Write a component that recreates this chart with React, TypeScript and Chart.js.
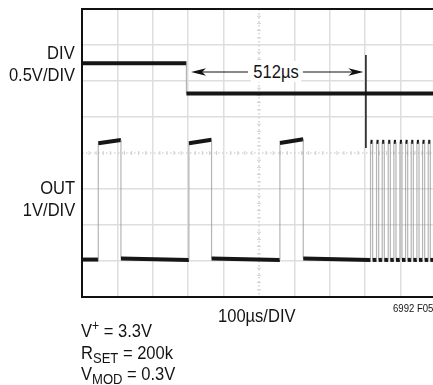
import React, { useEffect, useRef } from "react";
import { Chart, registerables } from "chart.js";

Chart.register(...registerables);

// ---- Scope settings (divisions) ----
const xDivisions = 10;
const usPerDiv = 100;
const yDivisions = 8;

// ---- DIV trace (in screen divisions from bottom) ----
const divTimesUs = [0, 295, 295, 1000];
const divLevels = [6.49, 6.49, 5.65, 5.65];

// ---- OUT trace: slow pulses (in screen divisions from bottom) ----
const outTimesUs = [0, 46, 46, 110, 110, 302, 302, 366, 366, 559, 559, 625, 625];
const outLevels = [1.04, 1.04, 4.27, 4.36, 1.07, 1.03, 4.27, 4.37, 1.07, 1.03, 4.28, 4.38, 1.07];

// ---- OUT trace: fast pulses after the 512us count ----
const fastRiseUs = [815, 832, 848, 865, 881, 898, 914, 930, 946, 962, 978, 994];
const fastFallUs = [821, 838, 854, 871, 887, 904, 920, 936, 952, 968, 984, 1000];
const fastHigh = 4.31;
const fastLow = 1.03;

// ---- Cursor / measurement annotation ----
const cursorUs = 802;
const cursorTopDiv = 6.72;
const cursorBottomDiv = 4.14;
const arrowDiv = 6.25;
const arrowLeftTipUs = 308;
const arrowLeftEndUs = 469;
const arrowRightStartUs = 624;
const arrowRightTipUs = 795;

const FONT = "'Liberation Sans', Arial, sans-serif";
const SQUEEZE = 0.87;

function buildDivPoints() {
  return divTimesUs.map((t, i) => ({ x: t, y: divLevels[i] }));
}

function buildOutPoints() {
  const pts = outTimesUs.map((t, i) => ({ x: t, y: outLevels[i] }));
  fastRiseUs.forEach((r, i) => {
    const f = fastFallUs[i];
    pts.push({ x: r, y: fastLow });
    pts.push({ x: r, y: fastHigh });
    pts.push({ x: f, y: fastHigh });
    pts.push({ x: f, y: fastLow });
  });
  return pts;
}

const segmentStyle = {
  borderColor: (ctx: any) =>
    ctx.p0.parsed.x === ctx.p1.parsed.x ? "rgba(150,150,150,0.7)" : "#161616",
  borderWidth: (ctx: any) => (ctx.p0.parsed.x === ctx.p1.parsed.x ? 1.2 : 4),
};

const scopePlugin = {
  id: "scopeDecor",
  beforeDatasetsDraw(chart: any) {
    const { ctx, chartArea, scales } = chart;
    const xs = scales.x;
    const ys = scales.y;
    ctx.save();
    const cx = xs.getPixelForValue((xDivisions / 2) * usPerDiv);
    const cy = ys.getPixelForValue(yDivisions / 2);
    ctx.strokeStyle = "#c4c4c4";
    ctx.lineWidth = 1.2;
    ctx.setLineDash([1.5, 2.5]);
    ctx.beginPath();
    ctx.moveTo(cx, chartArea.top);
    ctx.lineTo(cx, chartArea.bottom);
    ctx.moveTo(chartArea.left, cy);
    ctx.lineTo(chartArea.right, cy);
    ctx.stroke();
    ctx.setLineDash([]);
    ctx.strokeStyle = "#d0d0d0";
    ctx.lineWidth = 1;
    ctx.beginPath();
    for (let i = 1; i < xDivisions * 5; i++) {
      if (i % 5 === 0) continue;
      const px = xs.getPixelForValue((i * usPerDiv) / 5);
      ctx.moveTo(px, cy - 2);
      ctx.lineTo(px, cy + 2);
    }
    for (let i = 1; i < yDivisions * 5; i++) {
      if (i % 5 === 0) continue;
      const py = ys.getPixelForValue(i / 5);
      ctx.moveTo(cx - 2, py);
      ctx.lineTo(cx + 2, py);
    }
    ctx.stroke();
    ctx.restore();
  },
  afterDatasetsDraw(chart: any) {
    const { ctx, chartArea, scales } = chart;
    const xs = scales.x;
    const ys = scales.y;
    ctx.save();
    ctx.strokeStyle = "#111";
    ctx.lineWidth = 2;
    ctx.strokeRect(chartArea.left, chartArea.top, chartArea.right - chartArea.left, chartArea.bottom - chartArea.top);
    const cxp = xs.getPixelForValue(cursorUs);
    ctx.lineWidth = 1.5;
    ctx.beginPath();
    ctx.moveTo(cxp, ys.getPixelForValue(cursorTopDiv));
    ctx.lineTo(cxp, ys.getPixelForValue(cursorBottomDiv));
    ctx.stroke();
    const ay = ys.getPixelForValue(arrowDiv);
    const l1 = xs.getPixelForValue(arrowLeftTipUs);
    const l2 = xs.getPixelForValue(arrowLeftEndUs);
    const r1 = xs.getPixelForValue(arrowRightStartUs);
    const r2 = xs.getPixelForValue(arrowRightTipUs);
    ctx.lineWidth = 1.2;
    ctx.beginPath();
    ctx.moveTo(l1 + 6, ay);
    ctx.lineTo(l2, ay);
    ctx.moveTo(r1, ay);
    ctx.lineTo(r2 - 6, ay);
    ctx.stroke();
    ctx.fillStyle = "#111";
    const head = (tip: number, dir: number) => {
      ctx.beginPath();
      ctx.moveTo(tip, ay);
      ctx.lineTo(tip + dir * 15, ay - 3.8);
      ctx.lineTo(tip + dir * 11, ay);
      ctx.lineTo(tip + dir * 15, ay + 3.8);
      ctx.closePath();
      ctx.fill();
    };
    head(l1, 1);
    head(r2, -1);
    ctx.restore();
  },
};

function Label(props: {
  x: number;
  baseline: number;
  size: number;
  align?: "left" | "right" | "center";
  bg?: string;
  children: React.ReactNode;
}) {
  const { x, baseline, size, align = "left", bg, children } = props;
  const top = baseline - size * 0.8465;
  const style: React.CSSProperties = {
    position: "absolute",
    top,
    fontFamily: FONT,
    fontSize: size,
    lineHeight: `${size}px`,
    color: "#141414",
    whiteSpace: "nowrap",
    transform: `scaleX(${SQUEEZE})`,
  };
  if (align === "right") {
    style.right = 433 - x;
    style.transformOrigin = "right center";
  } else if (align === "center") {
    style.left = x - 100;
    style.width = 200;
    style.textAlign = "center";
    style.transformOrigin = "center center";
  } else {
    style.left = x;
    style.transformOrigin = "left center";
  }
  if (align === "center") {
    return (
      <div style={style}>
        <span style={{ background: bg, padding: "0 3px" }}>{children}</span>
      </div>
    );
  }
  return <div style={style}>{children}</div>;
}

const subStyle: React.CSSProperties = { fontSize: 15, verticalAlign: -4, lineHeight: 0 };
const supStyle: React.CSSProperties = { fontSize: 14, verticalAlign: 7, lineHeight: 0 };

export default function App() {
  const canvasRef = useRef<HTMLCanvasElement | null>(null);

  useEffect(() => {
    if (!canvasRef.current) return;
    const gridColor = (c: any, axisMax: number, center: number) => {
      const v = c.tick ? c.tick.value : 0;
      if (v === 0 || v === axisMax || v === center) return "rgba(0,0,0,0)";
      return "#dedede";
    };
    const chart = new Chart(canvasRef.current, {
      type: "scatter",
      data: {
        datasets: [
          {
            data: buildDivPoints(),
            showLine: true,
            pointRadius: 0,
            borderColor: "#161616",
            borderWidth: 4,
            segment: segmentStyle,
          },
          {
            data: buildOutPoints(),
            showLine: true,
            pointRadius: 0,
            borderColor: "#161616",
            borderWidth: 4,
            segment: segmentStyle,
          },
        ],
      },
      options: {
        responsive: false,
        animation: false,
        devicePixelRatio: 1,
        layout: { padding: { left: 82, top: 9, right: 9, bottom: 88 } },
        plugins: { legend: { display: false }, tooltip: { enabled: false } },
        elements: { line: { tension: 0 } },
        scales: {
          x: {
            type: "linear",
            min: 0,
            max: xDivisions * usPerDiv,
            ticks: { display: false, stepSize: usPerDiv },
            grid: {
              color: (c: any) => gridColor(c, xDivisions * usPerDiv, (xDivisions / 2) * usPerDiv),
              lineWidth: 1.5,
              drawTicks: false,
            },
            border: { display: false },
          },
          y: {
            type: "linear",
            min: 0,
            max: yDivisions,
            ticks: { display: false, stepSize: 1 },
            grid: {
              color: (c: any) => gridColor(c, yDivisions, yDivisions / 2),
              lineWidth: 1.5,
              drawTicks: false,
            },
            border: { display: false },
          },
        },
      },
      plugins: [scopePlugin],
    });
    return () => chart.destroy();
  }, []);

  return (
    <div
      style={{
        position: "absolute",
        left: 0,
        top: 0,
        width: 433,
        height: 385,
        overflow: "hidden",
        background: "#fff",
      }}
    >
      <canvas ref={canvasRef} width={445} height={385} style={{ display: "block", width: 445, height: 385 }} />
      <Label x={75} baseline={59} size={19} align="right">DIV</Label>
      <Label x={75} baseline={81} size={19} align="right">0.5V/DIV</Label>
      <Label x={75} baseline={194.5} size={19} align="right">OUT</Label>
      <Label x={75} baseline={216} size={19} align="right">1V/DIV</Label>
      <Label x={275.5} baseline={78.5} size={19} align="center" bg="#fff">512µs</Label>
      <Label x={218} baseline={321.7} size={19}>100µs/DIV</Label>
      <Label x={393} baseline={312} size={11}>6992 F05</Label>
      <Label x={81} baseline={336.7} size={19}>
        V<span style={supStyle}>+</span> = 3.3V
      </Label>
      <Label x={81} baseline={359} size={19}>
        R<span style={subStyle}>SET</span> = 200k
      </Label>
      <Label x={81} baseline={380} size={19}>
        V<span style={subStyle}>MOD</span> = 0.3V
      </Label>
    </div>
  );
}
